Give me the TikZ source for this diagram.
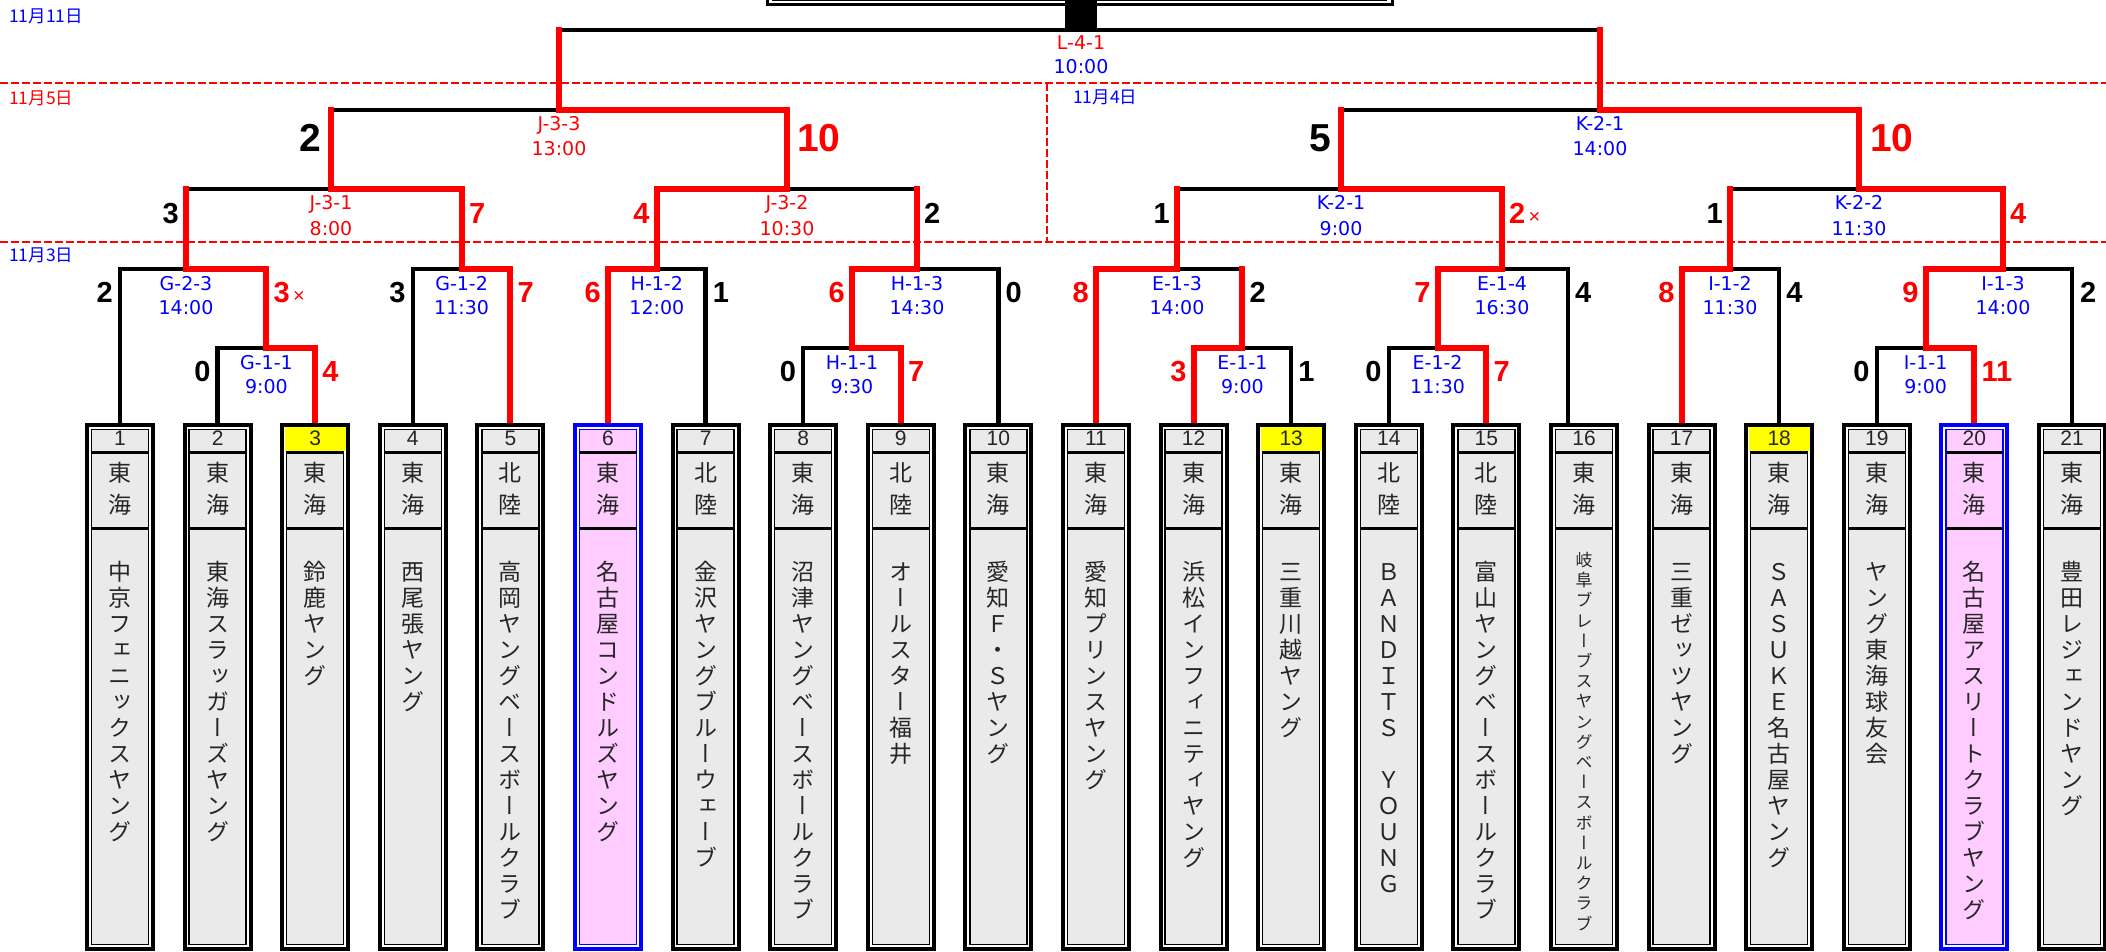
\documentclass[tikz,border=0pt]{standalone}
\usepackage{fontspec}
\newfontfamily\jpfont{Noto Sans CJK JP}
\newfontfamily\jpvfont[RawFeature=+vert]{Noto Sans CJK JP}
\newfontfamily\labfont{DejaVu Sans}
\newfontfamily\scfont{Liberation Sans}
\definecolor{gfill}{HTML}{EAEAEA}
\definecolor{pinkf}{HTML}{FFCCFF}
\definecolor{yelf}{HTML}{FFFF00}
\definecolor{bblue}{HTML}{0000FF}
\definecolor{rred}{HTML}{FF0000}
\makeatletter
\newcommand\vst[2]{\vtop{\baselineskip=#1\lineskiplimit=-100pt\lineskip=0pt\relax\expandafter\vst@a#2\relax}}
\def\vst@a#1{\ifx#1\relax\else\hbox to 0pt{\hss#1\hss}\expandafter\vst@a\fi}
\makeatother
% #1 idx, #2 border colour, #3 fill, #4 region, #5 name, #6 font size, #7 pitch, #8 first char centre y, #9 number cell options
\newcommand\teambox[9]{%
  \pgfmathsetmacro\bxL{85+(#1-1)*97.6}%
  \pgfmathsetmacro\bxC{\bxL+35}%
  \pgfmathsetmacro\bxY{#8+0.38*#6}%
  \fill[#3] (\bxL+6.5,429.5) rectangle (\bxL+63.5,944.5);
  \draw[#2, line width=4pt] (\bxL+2,425) rectangle (\bxL+68,949);
  \path[#9] (\bxL+4.5,427) rectangle (\bxL+65.5,450.5);
  \draw[#2, line width=1.5pt] (\bxL+6.5,450.5) -- (\bxL+6.5,944.5) -- (\bxL+63.5,944.5) -- (\bxL+63.5,450.5);
  \ifx\relax#9\relax\draw[#2, line width=1.5pt] (\bxL+6.5,452) -- (\bxL+6.5,429.5) -- (\bxL+63.5,429.5) -- (\bxL+63.5,452);\fi
  \draw[line width=3pt] (\bxL+6.5,452) -- (\bxL+63.5,452) (\bxL+6.5,528) -- (\bxL+63.5,528);
  \node[numt] (n#1) at (\bxC,438) {#1};
  \node[regt] (r#1) at (\bxC,481.7) {\vst{32pt}{#4}};
  \node[namet, font=\jpvfont\fontsize{#6}{#7}\selectfont] (t#1) at (\bxC,\bxY) {\vst{#7}{#5}};
}
\begin{document}
\begin{tikzpicture}[x=1pt,y=-1pt,
  blk/.style={line width=4.5pt, black, line join=miter},
  redp/.style={line width=6pt, rred, line join=miter, line cap=rect},
  dsh/.style={line width=2.2pt, rred, dash pattern=on 8pt off 3pt},
  lb/.style={font=\labfont\fontsize{19}{21}\selectfont, text height=14pt, text depth=0pt, inner sep=0pt},
  lbb/.style={lb, text=bblue}, lbr/.style={lb, text=rred},
  sc/.style={font=\scfont\bfseries\fontsize{29}{30}\selectfont, text height=21pt, text depth=0pt, inner sep=0pt},
  scbig/.style={font=\scfont\bfseries\fontsize{39}{40}\selectfont, text height=28pt, text depth=0pt, inner sep=0pt},
  scl/.style={sc, anchor=east}, scr/.style={sc, anchor=west},
  dt/.style={font=\jpfont\fontsize{17.5}{19}\selectfont, inner sep=0pt, anchor=west},
  numt/.style={font=\scfont\fontsize{21}{22}\selectfont, text height=15pt, text depth=0pt, inner sep=0pt, text=black!85},
  regt/.style={font=\jpfont\fontsize{23}{32}\selectfont, anchor=base, inner sep=0pt, text=black!85},
  namet/.style={anchor=base, inner sep=0pt, text=black!85}]
\useasboundingbox (0,0) rectangle (2106,952);
\clip (0,0) rectangle (2106,952);
% dates
\node[dt, text=bblue] (d11) at (9,16) {11月11日};
\node[dt, text=rred] (d5) at (9,98) {11月5日};
\node[dt, text=bblue] (d3) at (9,255) {11月3日};
\node[dt, text=bblue] (d4) at (1073,97) {11月4日};
% dashed day separators
\draw[dsh] (0,83) -- (2106,83);
\draw[dsh] (0,242) -- (2106,242);
\draw[dsh] (1047,83) -- (1047,242);
% champion box
\draw[line width=3pt] (767,-20) rectangle (1392,5);
\draw[line width=1.2pt] (772.5,-20) rectangle (1386.5,0.5);
\node[fill=black, minimum width=32pt, minimum height=32pt, inner sep=0pt] (stem) at (1081,16) {};
% coordinates
\foreach \i in {1,...,21}{\coordinate (bt\i) at ({120+(\i-1)*97.6},423);}
\coordinate (bt16) at (1568,423);
\coordinate (g23) at (186,269);
\coordinate (g11) at (266.4,348);
\coordinate (g12) at (461.6,269);
\coordinate (h12) at (656.8,269);
\coordinate (h11) at (852,348);
\coordinate (h13) at (917,269);
\coordinate (e13) at (1177,269);
\coordinate (e11) at (1242.4,348);
\coordinate (e14) at (1502,269);
\coordinate (e12) at (1437.6,348);
\coordinate (i12) at (1730,269);
\coordinate (i13) at (2003,269);
\coordinate (i11) at (1925.6,348);
\coordinate (j31) at (331,189);
\coordinate (j32) at (787,189);
\coordinate (k21a) at (1341,189);
\coordinate (k22) at (1859,189);
\coordinate (j33) at (559,110);
\coordinate (k21b) at (1600,110);
\coordinate (fin) at (1081,30);
% black skeleton
\draw[blk] (bt1) |- (g23) -| (g11);
\draw[blk] (bt2) |- (g11) -| (bt3);
\draw[blk] (bt4) |- (g12) -| (bt5);
\draw[blk] (bt6) |- (h12) -| (bt7);
\draw[blk] (bt8) |- (h11) -| (bt9);
\draw[blk] (h11) |- (h13) -| (bt10);
\draw[blk] (bt11) |- (e13) -| (e11);
\draw[blk] (bt12) |- (e11) -| (bt13);
\draw[blk] (bt14) |- (e12) -| (bt15);
\draw[blk] (e12) |- (e14) -| (bt16);
\draw[blk] (bt17) |- (i12) -| (bt18);
\draw[blk] (bt19) |- (i11) -| (bt20);
\draw[blk] (i11) |- (i13) -| (bt21);
\draw[blk] (g23) |- (j31) -| (g12);
\draw[blk] (h12) |- (j32) -| (h13);
\draw[blk] (e13) |- (k21a) -| (e14);
\draw[blk] (i12) |- (k22) -| (i13);
\draw[blk] (j31) |- (j33) -| (j32);
\draw[blk] (k21a) |- (k21b) -| (k22);
\draw[blk] (j33) |- (fin) -| (k21b);
% winners' paths
\draw[redp] (bt3) |- (g11) |- (g23) -- (g23 |- j31);
\draw[redp] (bt5) |- (g12) |- (j31) -- (j31 |- j33);
\draw[redp] (bt6) |- (h12) |- (j32) |- (j33) -- (j33 |- fin);
\draw[redp] (bt9) |- (h11) |- (h13) -- (h13 |- j32);
\draw[redp] (bt11) |- (e13) -- (e13 |- k21a);
\draw[redp] (bt12) |- (e11) -- (e11 |- e13);
\draw[redp] (bt15) |- (e12) |- (e14) |- (k21a) -- (k21a |- k21b);
\draw[redp] (bt17) |- (i12) -- (i12 |- k22);
\draw[redp] (bt20) |- (i11) |- (i13) |- (k22) |- (k21b) -- (k21b |- fin);
% team boxes
\teambox{1}{black}{gfill}{東海}{中京フェニックスヤング}{23}{26pt}{572}{}
\teambox{2}{black}{gfill}{東海}{東海スラッガーズヤング}{23}{26pt}{572}{}
\teambox{3}{black}{gfill}{東海}{鈴鹿ヤング}{23}{26pt}{572}{fill=yelf}
\teambox{4}{black}{gfill}{東海}{西尾張ヤング}{23}{26pt}{572}{}
\teambox{5}{black}{gfill}{北陸}{高岡ヤングベースボールクラブ}{23}{26pt}{572}{}
\teambox{6}{bblue}{pinkf}{東海}{名古屋コンドルズヤング}{23}{26pt}{572}{}
\teambox{7}{black}{gfill}{北陸}{金沢ヤングブルーウェーブ}{23}{26pt}{572}{}
\teambox{8}{black}{gfill}{東海}{沼津ヤングベースボールクラブ}{23}{26pt}{572}{}
\teambox{9}{black}{gfill}{北陸}{オールスター福井}{23}{26pt}{572}{}
\teambox{10}{black}{gfill}{東海}{愛知Ｆ・Ｓヤング}{23}{26pt}{572}{}
\teambox{11}{black}{gfill}{東海}{愛知プリンスヤング}{23}{26pt}{572}{}
\teambox{12}{black}{gfill}{東海}{浜松インフィニティヤング}{23}{26pt}{572}{}
\teambox{13}{black}{gfill}{東海}{三重川越ヤング}{23}{26pt}{572}{fill=yelf}
\teambox{14}{black}{gfill}{北陸}{ＢＡＮＤＩＴＳ　ＹＯＵＮＧ}{23}{26pt}{572}{}
\teambox{15}{black}{gfill}{北陸}{富山ヤングベースボールクラブ}{23}{26pt}{572}{}
\teambox{16}{black}{gfill}{東海}{岐阜ブレーブスヤングベースボールクラブ}{17}{20.2pt}{560}{}
\teambox{17}{black}{gfill}{東海}{三重ゼッツヤング}{23}{26pt}{572}{}
\teambox{18}{black}{gfill}{東海}{ＳＡＳＵＫＥ名古屋ヤング}{23}{26pt}{572}{fill=yelf}
\teambox{19}{black}{gfill}{東海}{ヤング東海球友会}{23}{26pt}{572}{}
\teambox{20}{bblue}{pinkf}{東海}{名古屋アスリートクラブヤング}{23}{26pt}{572}{}
\teambox{21}{black}{gfill}{東海}{豊田レジェンドヤング}{23}{26pt}{572}{}
% match labels
\node[lbr] (lfa) at (1081,43) {L-4-1};
\node[lbb] (lfb) at (1081,67) {10:00};
\node[lbr] (lj33a) at (559,124) {J-3-3};
\node[lbr] (lj33b) at (559,149) {13:00};
\node[lbb] (lk21ba) at (1600,124) {K-2-1};
\node[lbb] (lk21bb) at (1600,149) {14:00};
\node[lbr] (lj31a) at (331,203) {J-3-1};
\node[lbr] (lj31b) at (331,228) {8:00};
\node[lbr] (lj32a) at (787,203) {J-3-2};
\node[lbr] (lj32b) at (787,228) {10:30};
\node[lbb] (lk21aa) at (1341,203) {K-2-1};
\node[lbb] (lk21ab) at (1341,228) {9:00};
\node[lbb] (lk22a) at (1859,203) {K-2-2};
\node[lbb] (lk22b) at (1859,228) {11:30};
\node[lbb] (lg23a) at (186,283) {G-2-3};
\node[lbb] (lg23b) at (186,307) {14:00};
\node[lbb] (lg12a) at (461.6,283) {G-1-2};
\node[lbb] (lg12b) at (461.6,307) {11:30};
\node[lbb] (lh12a) at (656.8,283) {H-1-2};
\node[lbb] (lh12b) at (656.8,307) {12:00};
\node[lbb] (lh13a) at (917,283) {H-1-3};
\node[lbb] (lh13b) at (917,307) {14:30};
\node[lbb] (le13a) at (1177,283) {E-1-3};
\node[lbb] (le13b) at (1177,307) {14:00};
\node[lbb] (le14a) at (1502,283) {E-1-4};
\node[lbb] (le14b) at (1502,307) {16:30};
\node[lbb] (li12a) at (1730,283) {I-1-2};
\node[lbb] (li12b) at (1730,307) {11:30};
\node[lbb] (li13a) at (2003,283) {I-1-3};
\node[lbb] (li13b) at (2003,307) {14:00};
\node[lbb] (lg11a) at (266.4,362) {G-1-1};
\node[lbb] (lg11b) at (266.4,386) {9:00};
\node[lbb] (lh11a) at (852,362) {H-1-1};
\node[lbb] (lh11b) at (852,386) {9:30};
\node[lbb] (le11a) at (1242.4,362) {E-1-1};
\node[lbb] (le11b) at (1242.4,386) {9:00};
\node[lbb] (le12a) at (1437.6,362) {E-1-2};
\node[lbb] (le12b) at (1437.6,386) {11:30};
\node[lbb] (li11a) at (1925.6,362) {I-1-1};
\node[lbb] (li11b) at (1925.6,386) {9:00};
% scores, level D
\node[scbig, anchor=east] (sj33l) at (321,138) {2};
\node[scbig, anchor=west, text=rred] (sj33r) at (797,138) {10};
\node[scbig, anchor=east] (sk21bl) at (1331,138) {5};
\node[scbig, anchor=west, text=rred] (sk21br) at (1870,138) {10};
% scores, level C
\node[scl] (sj31l) at (179,213) {3};
\node[scr, text=rred] (sj31r) at (469,213) {7};
\node[scl, text=rred] (sj32l) at (649.8,213) {4};
\node[scr] (sj32r) at (924,213) {2};
\node[scl] (sk21al) at (1170,213) {1};
\node[scr, text=rred] (sk21ar) at (1509,213) {2{\mdseries\fontsize{20}{20}\selectfont\,×}};
\node[scl] (sk22l) at (1723,213) {1};
\node[scr, text=rred] (sk22r) at (2010,213) {4};
% scores, level B
\node[scl] (sg23l) at (113,292) {2};
\node[scr, text=rred] (sg23r) at (273.4,292) {3{\mdseries\fontsize{20}{20}\selectfont\,×}};
\node[scl] (sg12l) at (405.8,292) {3};
\node[scr, text=rred] (sg12r) at (517.4,292) {7};
\node[scl, text=rred] (sh12l) at (601,292) {6};
\node[scr] (sh12r) at (712.6,292) {1};
\node[scl, text=rred] (sh13l) at (845,292) {6};
\node[scr] (sh13r) at (1005.4,292) {0};
\node[scl, text=rred] (se13l) at (1089,292) {8};
\node[scr] (se13r) at (1249.4,292) {2};
\node[scl, text=rred] (se14l) at (1430.6,292) {7};
\node[scr] (se14r) at (1575,292) {4};
\node[scl, text=rred] (si12l) at (1674.6,292) {8};
\node[scr] (si12r) at (1786.2,292) {4};
\node[scl, text=rred] (si13l) at (1918.6,292) {9};
\node[scr] (si13r) at (2080,292) {2};
% scores, level A
\node[scl] (sg11l) at (210.6,371) {0};
\node[scr, text=rred] (sg11r) at (322.2,371) {4};
\node[scl] (sh11l) at (796.2,371) {0};
\node[scr, text=rred] (sh11r) at (907.8,371) {7};
\node[scl, text=rred] (se11l) at (1186.6,371) {3};
\node[scr] (se11r) at (1298.2,371) {1};
\node[scl] (se12l) at (1381.8,371) {0};
\node[scr, text=rred] (se12r) at (1493.4,371) {7};
\node[scl] (si11l) at (1869.8,371) {0};
\node[scr, text=rred] (si11r) at (1981.4,371) {11};
\end{tikzpicture}
\end{document}
